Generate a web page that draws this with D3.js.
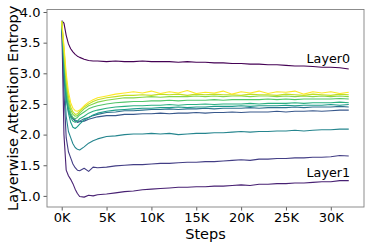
<!DOCTYPE html>
<html>
<head>
<meta charset="utf-8">
<script src="https://cdn.jsdelivr.net/npm/d3@7"></script>
<style>
body{margin:0;background:#fff;}
svg text{font-family:"DejaVu Sans",sans-serif;fill:#000;}
</style>
</head>
<body>
<svg id="chart" width="370" height="247"></svg>
<script>
width = 370;
height = 247;

// training steps shared by every layer
steps = [0,250,500,750,1000,1250,1500,1750,2000,2500,3000,3500,4000,5000,6000,7000,8000,9000,10000,
	11000,12000,13000,14000,15000,16000,17000,18000,19000,20000,21000,22000,23000,24000,25000,26000,
	27000,28000,29000,30000,31000,32000];

layerNames = ['Layer0','Layer1','Layer2','Layer3','Layer4','Layer5','Layer6','Layer7','Layer8','Layer9','Layer10','Layer11'];

layer0 = [3.86,3.82,3.62,3.48,3.40,3.35,3.31,3.28,3.26,3.23,3.21,3.20,3.20,3.19,3.20,3.19,3.19,3.20,3.19,3.19,3.19,3.18,3.19,3.18,3.18,3.17,3.17,3.16,3.16,3.15,3.15,3.14,3.14,3.13,3.12,3.12,3.11,3.10,3.10,3.09,3.07];
layer1 = [3.85,2.00,1.42,1.33,1.27,1.20,1.11,1.04,0.99,0.98,1.01,1.00,1.02,1.03,1.05,1.07,1.08,1.10,1.11,1.12,1.13,1.14,1.14,1.15,1.15,1.16,1.16,1.17,1.18,1.17,1.19,1.19,1.20,1.20,1.21,1.21,1.22,1.23,1.23,1.25,1.25];
layer2 = [3.85,2.70,1.95,1.72,1.62,1.52,1.46,1.42,1.41,1.45,1.40,1.47,1.46,1.47,1.49,1.50,1.51,1.51,1.52,1.53,1.53,1.54,1.55,1.55,1.56,1.56,1.57,1.58,1.59,1.58,1.60,1.60,1.61,1.61,1.62,1.62,1.63,1.63,1.64,1.66,1.65];
layer3 = [3.85,3.10,2.60,2.38,2.30,2.26,2.22,2.20,2.21,2.22,2.25,2.27,2.29,2.31,2.31,2.33,2.33,2.34,2.34,2.35,2.34,2.35,2.35,2.36,2.35,2.36,2.36,2.37,2.36,2.37,2.37,2.37,2.38,2.37,2.38,2.38,2.39,2.38,2.39,2.40,2.40];
layer4 = [3.85,3.15,2.65,2.42,2.32,2.27,2.24,2.22,2.22,2.26,2.28,2.31,2.33,2.36,2.37,2.39,2.39,2.40,2.41,2.41,2.42,2.41,2.42,2.42,2.43,2.42,2.43,2.43,2.43,2.44,2.43,2.44,2.44,2.44,2.45,2.44,2.45,2.45,2.45,2.46,2.45];
layer5 = [3.85,3.00,2.30,2.05,1.95,1.85,1.79,1.76,1.75,1.80,1.86,1.90,1.93,1.97,1.98,2.00,2.01,2.01,2.02,2.01,2.02,2.00,2.01,2.02,2.02,2.03,2.03,2.04,2.05,2.04,2.05,2.05,2.06,2.06,2.07,2.06,2.07,2.08,2.08,2.09,2.09];
layer6 = [3.85,3.20,2.60,2.35,2.20,2.12,2.10,2.13,2.17,2.24,2.28,2.32,2.35,2.38,2.40,2.41,2.42,2.43,2.43,2.44,2.44,2.45,2.44,2.45,2.45,2.46,2.46,2.46,2.47,2.46,2.47,2.47,2.47,2.48,2.47,2.48,2.48,2.48,2.49,2.48,2.49];
layer7 = [3.85,3.25,2.70,2.42,2.28,2.22,2.20,2.22,2.26,2.30,2.35,2.38,2.40,2.43,2.45,2.46,2.47,2.47,2.48,2.48,2.49,2.48,2.49,2.49,2.50,2.49,2.50,2.50,2.50,2.51,2.50,2.51,2.51,2.51,2.52,2.51,2.52,2.52,2.52,2.53,2.52];
layer8 = [3.85,3.30,2.80,2.50,2.35,2.28,2.26,2.28,2.32,2.37,2.42,2.45,2.47,2.50,2.52,2.53,2.54,2.54,2.55,2.55,2.56,2.55,2.56,2.56,2.56,2.57,2.56,2.57,2.57,2.57,2.57,2.58,2.57,2.58,2.57,2.58,2.58,2.58,2.58,2.59,2.58];
layer9 = [3.85,3.35,2.85,2.55,2.40,2.33,2.30,2.31,2.35,2.42,2.47,2.50,2.53,2.56,2.58,2.60,2.60,2.61,2.62,2.61,2.62,2.62,2.62,2.63,2.62,2.63,2.62,2.63,2.63,2.62,2.63,2.63,2.62,2.63,2.62,2.63,2.62,2.63,2.62,2.63,2.62];
layer10 = [3.85,3.40,2.92,2.62,2.45,2.37,2.33,2.34,2.38,2.45,2.50,2.54,2.57,2.60,2.62,2.64,2.64,2.65,2.64,2.66,2.65,2.66,2.64,2.66,2.65,2.66,2.65,2.65,2.64,2.66,2.65,2.65,2.64,2.66,2.65,2.64,2.66,2.65,2.64,2.66,2.65];
layer11 = [3.85,3.45,3.00,2.70,2.52,2.43,2.39,2.38,2.40,2.47,2.53,2.57,2.60,2.63,2.66,2.68,2.70,2.68,2.71,2.67,2.70,2.68,2.72,2.67,2.69,2.68,2.71,2.66,2.70,2.68,2.71,2.67,2.70,2.69,2.71,2.66,2.70,2.68,2.70,2.67,2.69];

layers = [layer0,layer1,layer2,layer3,layer4,layer5,layer6,layer7,layer8,layer9,layer10,layer11];

xTicks = [0,5000,10000,15000,20000,25000,30000];
yTicks = [1.0,1.5,2.0,2.5,3.0,3.5,4.0];

plot = {left: 47, right: 364, top: 9.5, bottom: 207};

svg = d3.select('#chart');

x = d3.scaleLinear().domain([-1640, 33700]).range([plot.left, plot.right]);
y = d3.scaleLinear().domain([0.819, 4.041]).range([plot.bottom, plot.top]);
color = d3.scaleSequential(d3.interpolateViridis).domain([0, layers.length-1]);

// axes
xAxis = svg.append('g')
	.attr('transform', `translate(0,${plot.bottom})`)
	.call(d3.axisBottom(x).tickValues(xTicks).tickSize(3.5).tickPadding(2)
		.tickFormat(d => (d/1000) + 'K'));
yAxis = svg.append('g')
	.attr('transform', `translate(${plot.left},0)`)
	.call(d3.axisLeft(y).tickValues(yTicks).tickSize(3.5).tickPadding(3)
		.tickFormat(d3.format('.1f')));
[xAxis, yAxis].forEach(a => {
	a.select('.domain').remove();
	a.selectAll('.tick line').attr('stroke', '#333').attr('stroke-width', 0.8);
	a.selectAll('.tick text').style('font-size', '13px').style('font-family', '"DejaVu Sans",sans-serif').attr('fill', '#000');
});

// lines
line = d3.line().x((d, i) => x(steps[i])).y(d => y(d));
svg.append('g')
	.selectAll('path')
	.data(layers)
	.join('path')
	.attr('d', d => line(d))
	.attr('fill', 'none')
	.attr('stroke', (d, i) => color(i))
	.attr('stroke-width', 1.1)
	.attr('stroke-linejoin', 'round');

// frame
svg.append('rect')
	.attr('x', plot.left).attr('y', plot.top)
	.attr('width', plot.right-plot.left).attr('height', plot.bottom-plot.top)
	.attr('fill', 'none')
	.attr('stroke', '#808080')
	.attr('stroke-width', 0.9);

// annotations
svg.append('text').attr('x', 350).attr('y', 63.3).attr('text-anchor', 'end')
	.style('font-size', '12.7px').text(layerNames[0]);
svg.append('text').attr('x', 350).attr('y', 177.3).attr('text-anchor', 'end')
	.style('font-size', '12.7px').text(layerNames[1]);

// axis labels
svg.append('text').attr('x', (plot.left+plot.right)/2).attr('y', 239)
	.attr('text-anchor', 'middle').style('font-size', '14.5px').text('Steps');
svg.append('text')
	.attr('transform', `translate(17.5,${(plot.top+plot.bottom)/2}) rotate(-90)`)
	.attr('text-anchor', 'middle').style('font-size', '14.5px').text('Layerwise Attention Entropy');
</script>
</body>
</html>
